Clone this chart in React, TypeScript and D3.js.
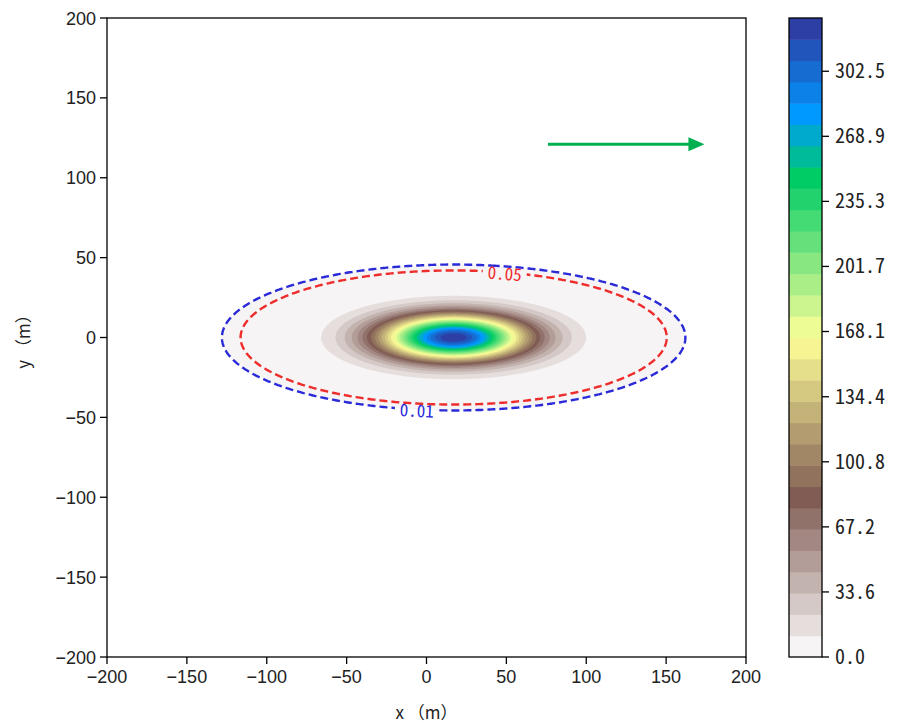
import React, { useMemo } from 'react';
import * as d3 from 'd3';

// ---- data ----
const X_TICKS = [-200, -150, -100, -50, 0, 50, 100, 150, 200];
const Y_TICKS = [-200, -150, -100, -50, 0, 50, 100, 150, 200];
const CBAR_TICKS = [0.0, 33.6, 67.2, 100.8, 134.4, 168.1, 201.7, 235.3, 268.9, 302.5];
const N_BANDS = 30;
const C_MAX = 330;
// plume (concentration field) parameters
const PEAK = 330;
const CENTER_X = 17;
const CENTER_Y = 0;
const SIGMA_X = 31.8;
const SIGMA_Y = 10;
const MASK_LEVEL = 0.01;
const LINE_LEVELS = [0.01, 0.05];
const LINE_COLORS = ['#2a2ad8', '#ee2c2c'];
const LABEL_X = [-6, 49];
const LABEL_SIDE = [-1, 1];
const ARROW_FROM = [76, 121];
const ARROW_TO = [174, 121];
const X_LABEL = 'x （m）';
const Y_LABEL = 'y （m）';

// matplotlib "terrain" colormap anchors
const TERRAIN: [number, number[]][] = [
  [0.0, [0.2, 0.2, 0.6]],
  [0.15, [0.0, 0.6, 1.0]],
  [0.25, [0.0, 0.8, 0.4]],
  [0.5, [1.0, 1.0, 0.6]],
  [0.75, [0.5, 0.36, 0.33]],
  [1.0, [1.0, 1.0, 1.0]],
];
function terrainR(t: number): string {
  const u = 1 - t;
  for (let i = 0; i < TERRAIN.length - 1; i++) {
    const [a, ca] = TERRAIN[i];
    const [b, cb] = TERRAIN[i + 1];
    if (u >= a && u <= b) {
      const f = (u - a) / (b - a);
      const c = ca.map((v, k) => Math.round((v + (cb[k] - v) * f) * 255));
      return `rgb(${c[0]},${c[1]},${c[2]})`;
    }
  }
  return 'white';
}

const W = 903;
const H = 724;
const PL = 107, PR = 746, PT = 18, PB = 657;
const CB_X = 789, CB_W = 33;

const STEP = 1;
const GMIN = -200;
const N = 401;

function field(x: number, y: number) {
  const dx = (x - CENTER_X) / SIGMA_X;
  const dy = (y - CENTER_Y) / SIGMA_Y;
  return PEAK * Math.exp(-0.5 * (dx * dx + dy * dy));
}

export default function App() {
  const xs = d3.scaleLinear().domain([-200, 200]).range([PL, PR]);
  const ys = d3.scaleLinear().domain([-200, 200]).range([PB, PT]);
  const cs = d3.scaleLinear().domain([0, C_MAX]).range([PB, PT]);

  const { bandPaths, linePaths } = useMemo(() => {
    const values = new Float64Array(N * N);
    for (let j = 0; j < N; j++) {
      for (let i = 0; i < N; i++) {
        values[j * N + i] = field(GMIN + i * STEP, GMIN + j * STEP);
      }
    }
    const proj = d3.geoTransform({
      point(x: number, y: number) {
        (this as any).stream.point(xs(GMIN + (x - 0.5) * STEP), ys(GMIN + (y - 0.5) * STEP));
      },
    });
    const path = d3.geoPath(proj as any);
    const levels = d3.range(N_BANDS + 1).map((i) => (i * C_MAX) / N_BANDS);
    const thr = levels.slice(0, N_BANDS).map((v, i) => (i === 0 ? MASK_LEVEL : v));
    const gen = d3.contours().size([N, N]).thresholds(thr);
    const cont = gen(Array.from(values));
    const bandPaths = cont.map((c, i) => ({ d: path(c as any) || '', color: terrainR((i + 0.5) / N_BANDS) }));
    const lg = d3.contours().size([N, N]).thresholds(LINE_LEVELS);
    const lc = lg(Array.from(values));
    const linePaths = lc.map((c) => path(c as any) || '');
    return { bandPaths, linePaths };
  }, []);

  const labels = LINE_LEVELS.map((L, k) => {
    const yAt = (x: number) => {
      const r = 2 * Math.log(PEAK / L) - ((x - CENTER_X) / SIGMA_X) ** 2;
      return CENTER_Y + LABEL_SIDE[k] * SIGMA_Y * Math.sqrt(Math.max(r, 0));
    };
    const x = LABEL_X[k];
    const px = xs(x), py = ys(yAt(x));
    const px2 = xs(x + 1), py2 = ys(yAt(x + 1));
    const ang = (Math.atan2(py2 - py, px2 - px) * 180) / Math.PI;
    return { px, py, ang, text: L.toFixed(2), color: LINE_COLORS[k] };
  });

  const bands = d3.range(N_BANDS).map((i) => ({
    y0: cs((i * C_MAX) / N_BANDS),
    y1: cs(((i + 1) * C_MAX) / N_BANDS),
    color: terrainR((i + 0.5) / N_BANDS),
  }));

  const tickFont = "'Liberation Sans', Arial, sans-serif";
  const monoFont = "'Noto Sans Mono CJK SC', 'DejaVu Sans Mono', monospace";
  const cjkFont = "'Noto Sans CJK SC', sans-serif";

  return (
    <svg width={W} height={H} style={{ position: 'absolute', left: 0, top: 0, background: 'white' }}>
      <defs>
        <clipPath id="plotclip">
          <rect x={PL} y={PT} width={PR - PL} height={PB - PT} />
        </clipPath>
        {labels.map((lb, k) => (
          <mask id={`lm${k}`} key={k} maskUnits="userSpaceOnUse" x={0} y={0} width={W} height={H}>
            <rect x={0} y={0} width={W} height={H} fill="white" />
            <rect
              x={-22}
              y={-9}
              width={44}
              height={18}
              fill="black"
              transform={`translate(${lb.px},${lb.py}) rotate(${lb.ang})`}
            />
          </mask>
        ))}
      </defs>

      <g clipPath="url(#plotclip)">
        {bandPaths.map((b, i) => (
          <path key={i} d={b.d} fill={b.color} stroke="none" />
        ))}
        {linePaths.map((d, k) => (
          <path
            key={k}
            d={d}
            fill="none"
            stroke={LINE_COLORS[k]}
            strokeWidth={2.4}
            strokeDasharray="8 4"
            mask={`url(#lm${k})`}
          />
        ))}
        {labels.map((lb, k) => (
          <text
            key={k}
            transform={`translate(${lb.px},${lb.py}) rotate(${lb.ang})`}
            textAnchor="middle"
            dominantBaseline="central"
            fontFamily={monoFont}
            fontSize={17}
            fill={lb.color}
          >
            {lb.text}
          </text>
        ))}
        <line
          x1={xs(ARROW_FROM[0])}
          y1={ys(ARROW_FROM[1])}
          x2={xs(ARROW_TO[0]) - 14}
          y2={ys(ARROW_TO[1])}
          stroke="#00b050"
          strokeWidth={3}
        />
        <path
          d={`M${xs(ARROW_TO[0])},${ys(ARROW_TO[1])} l-16,-7 l0,14 Z`}
          fill="#00b050"
        />
      </g>

      {/* axes frame */}
      <rect x={PL} y={PT} width={PR - PL} height={PB - PT} fill="none" stroke="black" strokeWidth={1.3} />
      {X_TICKS.map((t) => (
        <g key={`x${t}`}>
          <line x1={xs(t)} x2={xs(t)} y1={PB} y2={PB + 7} stroke="black" strokeWidth={1.3} />
          <text x={xs(t)} y={PB + 26} textAnchor="middle" fontFamily={tickFont} fontSize={18} fill="#222">
            {t < 0 ? `\u2212${Math.abs(t)}` : `${t}`}
          </text>
        </g>
      ))}
      {Y_TICKS.map((t) => (
        <g key={`y${t}`}>
          <line x1={PL - 7} x2={PL} y1={ys(t)} y2={ys(t)} stroke="black" strokeWidth={1.3} />
          <text x={PL - 11} y={ys(t) + 6.5} textAnchor="end" fontFamily={tickFont} fontSize={18} fill="#222">
            {t < 0 ? `\u2212${Math.abs(t)}` : `${t}`}
          </text>
        </g>
      ))}
      <text x={(PL + PR) / 2} y={719} textAnchor="middle" fontFamily={cjkFont} fontSize={17} fill="#222">
        {X_LABEL}
      </text>
      <text
        transform={`translate(30,${(PT + PB) / 2}) rotate(-90)`}
        textAnchor="middle"
        fontFamily={cjkFont}
        fontSize={17}
        fill="#222"
      >
        {Y_LABEL}
      </text>

      {/* colorbar */}
      {bands.map((b, i) => (
        <rect key={i} x={CB_X} y={b.y1} width={CB_W} height={b.y0 - b.y1 + 0.5} fill={b.color} />
      ))}
      <rect x={CB_X} y={PT} width={CB_W} height={PB - PT} fill="none" stroke="black" strokeWidth={1.3} />
      {CBAR_TICKS.map((t) => (
        <g key={`c${t}`}>
          <line x1={CB_X + CB_W} x2={CB_X + CB_W + 7} y1={cs(t)} y2={cs(t)} stroke="black" strokeWidth={1.3} />
          <text x={CB_X + CB_W + 13} y={cs(t) + 7} fontFamily={monoFont} fontSize={20} fill="#222">
            {t.toFixed(1)}
          </text>
        </g>
      ))}
    </svg>
  );
}
